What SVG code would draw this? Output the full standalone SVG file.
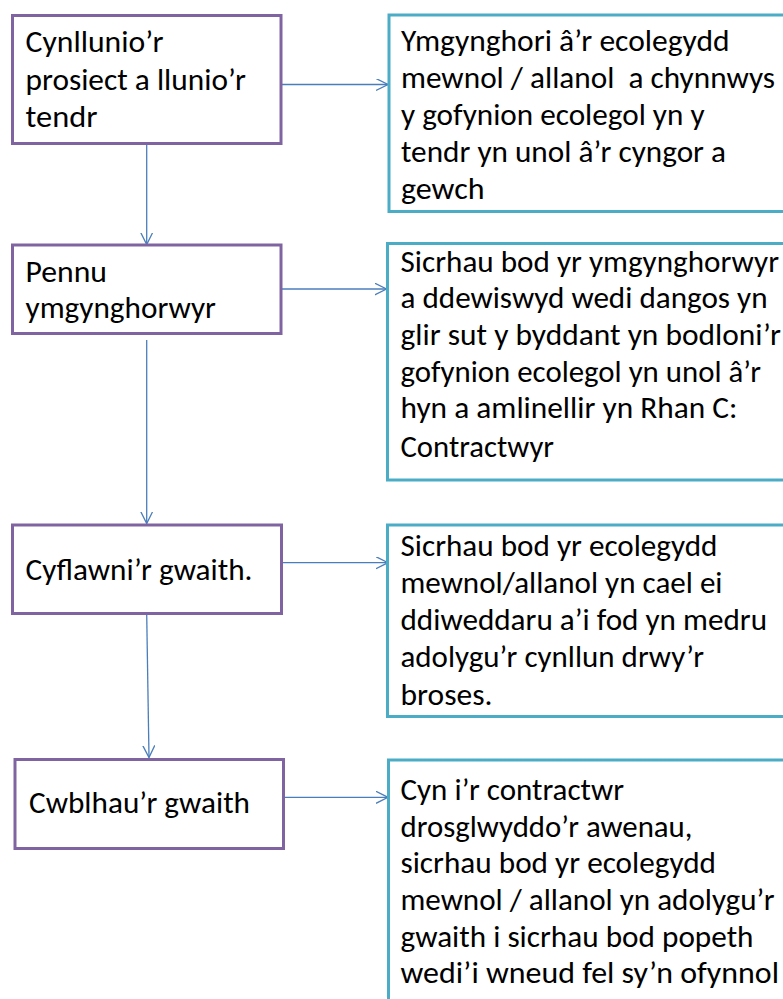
<svg xmlns="http://www.w3.org/2000/svg" width="783" height="999" viewBox="0 0 783 999">
<defs>
<marker id="arr" markerWidth="14" markerHeight="14" refX="12" refY="6" orient="auto" markerUnits="userSpaceOnUse">
<path d="M0,0 L12,6 L0,12" fill="none" stroke="#4A7EBB" stroke-width="1.3"/>
</marker>
</defs>
<style>
.l{fill:#fff;stroke:#8064A2;stroke-width:3}
.r{fill:#fff;stroke:#4BACC6;stroke-width:3}
.c{stroke:#4A7EBB;stroke-width:1.3;fill:none;marker-end:url(#arr)}
text{font-family:Carlito,Calibri,Lato,"Liberation Sans",sans-serif;font-size:30.5px;fill:#000;white-space:pre}
</style>
<rect width="783" height="999" fill="#fff"/>
<g id="connectors">
<line class="c" x1="281" y1="84.5" x2="388" y2="84.5"/>
<line class="c" x1="146.7" y1="143" x2="146.7" y2="244.5"/>
<line class="c" x1="281" y1="289" x2="386.5" y2="289"/>
<line class="c" x1="146.7" y1="340" x2="146.7" y2="523.5"/>
<line class="c" x1="281.5" y1="562.7" x2="388" y2="562.7"/>
<line class="c" x1="146.7" y1="614" x2="149" y2="757.5"/>
<line class="c" x1="283.5" y1="797.3" x2="388" y2="797.3"/>
</g>
<g id="n1">
<rect class="l" x="12.5" y="15.5" width="268.5" height="128"/>
<text x="25.5" y="52" textLength="138" lengthAdjust="spacingAndGlyphs">Cynllunio’r</text>
<text x="25.5" y="90" textLength="220.5" lengthAdjust="spacingAndGlyphs">prosiect a llunio’r</text>
<text x="25.5" y="127" textLength="72" lengthAdjust="spacingAndGlyphs">tendr</text>
</g>
<g id="n2">
<rect class="r" x="389" y="15" width="400" height="196.5"/>
<text x="401" y="51" textLength="328.5" lengthAdjust="spacingAndGlyphs">Ymgynghori â’r ecolegydd</text>
<text x="401" y="88" textLength="374" lengthAdjust="spacingAndGlyphs">mewnol / allanol  a chynnwys</text>
<text x="401" y="125" textLength="303.5" lengthAdjust="spacingAndGlyphs">y gofynion ecolegol yn y</text>
<text x="401" y="162" textLength="325" lengthAdjust="spacingAndGlyphs">tendr yn unol â’r cyngor a</text>
<text x="401" y="199" textLength="83.5" lengthAdjust="spacingAndGlyphs">gewch</text>
</g>
<g id="n3">
<rect class="l" x="12.5" y="245" width="268.5" height="88.5"/>
<text x="25.5" y="281.7" textLength="81.5" lengthAdjust="spacingAndGlyphs">Pennu</text>
<text x="25.5" y="318.3" textLength="190.5" lengthAdjust="spacingAndGlyphs">ymgynghorwyr</text>
</g>
<g id="n4">
<rect class="r" x="387.5" y="243.5" width="400" height="236.5"/>
<text x="400.5" y="271.7" textLength="378.5" lengthAdjust="spacingAndGlyphs">Sicrhau bod yr ymgynghorwyr</text>
<text x="400.5" y="308.3" textLength="367" lengthAdjust="spacingAndGlyphs">a ddewiswyd wedi dangos yn</text>
<text x="400.5" y="345" textLength="380.5" lengthAdjust="spacingAndGlyphs">glir sut y byddant yn bodloni’r</text>
<text x="400.5" y="381.7" textLength="360.5" lengthAdjust="spacingAndGlyphs">gofynion ecolegol yn unol â’r</text>
<text x="400.5" y="418.3" textLength="337" lengthAdjust="spacingAndGlyphs">hyn a amlinellir yn Rhan C:</text>
<text x="400.5" y="456.7" textLength="153.5" lengthAdjust="spacingAndGlyphs">Contractwyr</text>
</g>
<g id="n5">
<rect class="l" x="12.5" y="525" width="269" height="88.5"/>
<text x="25.5" y="580" textLength="227" lengthAdjust="spacingAndGlyphs">Cyflawni’r gwaith.</text>
</g>
<g id="n6">
<rect class="r" x="387.5" y="525" width="400" height="191.5"/>
<text x="400.5" y="556" textLength="317" lengthAdjust="spacingAndGlyphs">Sicrhau bod yr ecolegydd</text>
<text x="400.5" y="593.3" textLength="322" lengthAdjust="spacingAndGlyphs">mewnol/allanol yn cael ei</text>
<text x="400.5" y="630" textLength="366.5" lengthAdjust="spacingAndGlyphs">ddiweddaru a’i fod yn medru</text>
<text x="400.5" y="666.7" textLength="303.5" lengthAdjust="spacingAndGlyphs">adolygu’r cynllun drwy’r</text>
<text x="400.5" y="705" textLength="92" lengthAdjust="spacingAndGlyphs">broses.</text>
</g>
<g id="n7">
<rect class="l" x="15" y="759.5" width="268.5" height="89"/>
<text x="29" y="813.3" textLength="221" lengthAdjust="spacingAndGlyphs">Cwblhau’r gwaith</text>
</g>
<g id="n8">
<rect class="r" x="388.5" y="760" width="400" height="250"/>
<text x="400.5" y="800" textLength="223.5" lengthAdjust="spacingAndGlyphs">Cyn i’r contractwr</text>
<text x="400.5" y="836.7" textLength="292" lengthAdjust="spacingAndGlyphs">drosglwyddo’r awenau,</text>
<text x="400.5" y="873.3" textLength="315.5" lengthAdjust="spacingAndGlyphs">sicrhau bod yr ecolegydd</text>
<text x="400.5" y="910" textLength="374" lengthAdjust="spacingAndGlyphs">mewnol / allanol yn adolygu’r</text>
<text x="400.5" y="946.7" textLength="353" lengthAdjust="spacingAndGlyphs">gwaith i sicrhau bod popeth</text>
<text x="400.5" y="983.3" textLength="378.5" lengthAdjust="spacingAndGlyphs">wedi’i wneud fel sy’n ofynnol</text>
</g>
</svg>
